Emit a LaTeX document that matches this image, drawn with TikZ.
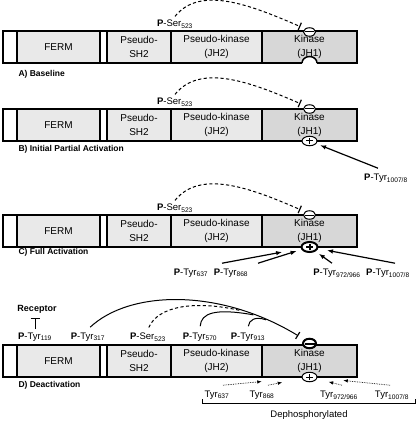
\documentclass[tikz,border=0pt]{standalone}
\usepackage{fontspec}
\setmainfont{Liberation Sans}
\usetikzlibrary{arrows.meta,shapes.geometric}
\definecolor{domgray}{HTML}{E9E9E9}
\definecolor{kingray}{HTML}{D7D7D7}
\newcommand\phos[2]{\textbf{P}-#1\textsubscript{#2}}
\newcommand\unphos[2]{#1\textsubscript{#2}}

\begin{document}
\begin{tikzpicture}[x=1pt,y=-1pt,font=\fontsize{9.5}{13}\selectfont,
  dom/.style={draw,line width=1.5pt,fill=domgray,inner sep=0pt,outer sep=0pt,minimum height=32pt,anchor=north west,align=center,
    font=\fontsize{10}{13.5}\selectfont},
  panel/.style={anchor=west,font=\bfseries\fontsize{8.5}{10}\selectfont},
  offsign/.style={ellipse,draw,fill=white,line width=#1,inner sep=0pt,minimum width=12pt,minimum height=8.5pt,
    path picture={\draw[line width=#1] ([xshift=1.5pt]path picture bounding box.west) -- ([xshift=-1.5pt]path picture bounding box.east);}},
  offsign/.default=1pt,
  onsign/.style={ellipse,draw,fill=white,line width=#1,inner sep=0pt,minimum width=15pt,minimum height=9.5pt,
    path picture={\draw[line width=#1] ([xshift=-3.5pt]path picture bounding box.center) -- ([xshift=3.5pt]path picture bounding box.center)
      ([yshift=-3pt]path picture bounding box.center) -- ([yshift=3pt]path picture bounding box.center);}},
  onsign/.default=1pt,
  inhib/.style={-{Bar[width=8pt,line width=1.2pt]},line width=1pt,shorten >=5pt},
  act/.style={-{Latex[length=6pt,width=4.5pt]},line width=1.2pt},
  deact/.style={-{Latex[length=4.5pt,width=3.5pt]},densely dotted,line width=0.7pt},
  ser dash/.style={dash pattern=on 3.2pt off 2.4pt}]
\useasboundingbox (0,0) rectangle (416,422);
% the four JAK bars
\foreach \p/\y in %
{a/31,b/109,c/215,d/345} {
  \node[dom,fill=white,minimum width=14pt] (\p box) at (3,\y) {};
  \node[dom,minimum width=83pt] (\p ferm) at (\p box.north east) {FERM};
  \node[dom,fill=white,minimum width=7pt] (\p link) at (\p ferm.north east) {};
  \node[dom,minimum width=64pt] (\p sh2) at (\p link.north east) {Pseudo-\\SH2};
  \node[dom,minimum width=91pt] (\p jh2) at (\p sh2.north east) {Pseudo-kinase\\(JH2)};
  \node[dom,fill=kingray,minimum width=95pt] (\p jh1) at (\p jh2.north east) {Kinase\\(JH1)};
}
% A) baseline
\node[offsign] (aminus) at ([yshift=-1pt]ajh1.north) {};
\fill[white] ([xshift=-7.5pt,yshift=-1pt]ajh1.south) rectangle ([xshift=7.5pt,yshift=1pt]ajh1.south);
\draw[line width=1.5pt,fill=white] ([xshift=-7.5pt]ajh1.south) arc[start angle=180,end angle=0,x radius=7.5pt,y radius=6.5pt];
\node (aser) at (175,24) {\phos{Ser}{523}};
\node[panel] (alabel) at (15,74) {A) Baseline};
% B) initial partial activation
\node[offsign] (bminus) at (bjh1.north) {};
\node[onsign] (bplus) at (bjh1.south) {};
\node (bser) at (175,102) {\phos{Ser}{523}};
\node (btyr1007) at (386,178) {\phos{Tyr}{1007/8}};
\node[panel] (blabel) at (15,149) {B) Initial Partial Activation};
\draw[act,shorten >=4pt] ([xshift=-8pt,yshift=2pt]btyr1007.north) -- (bplus);
% C) full activation
\node[offsign] (cminus) at (cjh1.north) {};
\node[onsign=2pt,minimum width=16pt,minimum height=10pt] (cplus) at (cjh1.south) {};
\node (cser) at (175,208) {\phos{Ser}{523}};
\node[panel] (clabel) at (15,252) {C) Full Activation};
\node (ctyr637) at (191,273) {\phos{Tyr}{637}};
\node (ctyr868) at (231,273) {\phos{Tyr}{868}};
\node (ctyr972) at (337,273) {\phos{Tyr}{972/966}};
\node (ctyr1007) at (388,273) {\phos{Tyr}{1007/8}};
\foreach \t/\s/\e in %
{637/31/19,868/27/5,972/-5/4,1007/7/9} {
  \draw[act,shorten >=\e pt] ([xshift=\s pt,yshift=2pt]ctyr\t.north) -- (cplus);
}
\foreach \p in {a,b,c} {
  \draw[inhib,ser dash] (\p ser.north) .. controls +(25,-31) and +(-55,-24) .. (\p minus.north west);
}
% D) deactivation
\node[offsign=2pt,minimum width=13pt,minimum height=9.5pt] (dminus) at ([yshift=1.5pt]djh1.north) {};
\node[onsign] (dplus) at (djh1.south) {};
\node[panel] (dlabel) at (15,385) {D) Deactivation};
\node[font=\bfseries\fontsize{9}{10}\selectfont] (receptor) at (37,309) {Receptor};
\node (dtyr119) at (35,337) {\phos{Tyr}{119}};
\node (dtyr317) at (88,337) {\phos{Tyr}{317}};
\node (dser) at (148,337) {\phos{Ser}{523}};
\node (dtyr570) at (200,337) {\phos{Tyr}{570}};
\node (dtyr913) at (248,337) {\phos{Tyr}{913}};
\draw[-{Bar[width=9pt,line width=1.2pt]},line width=1pt,shorten >=1.5pt] (dtyr119.north) -- (dtyr119.north |- receptor.south);
\draw[inhib,shorten >=7pt,shorten <=3pt] (dtyr317.north) .. controls (130,290) and (220,288) .. (dminus.north west)
  coordinate[pos=0.75] (djoina) coordinate[pos=0.8] (djoinb) coordinate[pos=0.85] (djoinc);
\draw[line width=1pt,ser dash,shorten <=2pt] (dser.north) .. controls (158,306) and (195,300) .. (djoina);
\draw[line width=1pt,shorten <=3pt] (dtyr570.north) .. controls (201,313) and (215,308) .. (djoinb);
\draw[line width=1pt,shorten <=3pt] (dtyr913.north) .. controls (249,320) and (255,316) .. (djoinc);
\node (dtyr637) at (217,395) {\unphos{Tyr}{637}};
\node (dtyr868) at (262,395) {\unphos{Tyr}{868}};
\node (dtyr972) at (339,395) {\unphos{Tyr}{972/966}};
\node (dtyr1007) at (392,395) {\unphos{Tyr}{1007/8}};
\foreach \t/\s/\e in %
{637/6/40,868/6/20,972/3/12,1007/-2/26} {
  \draw[deact,shorten >=\e pt] ([xshift=\s pt,yshift=2pt]dtyr\t.north) -- (dplus);
}
\coordinate (brleft) at (202,403);
\coordinate (brright) at (415,403);
\draw[line width=0.8pt] (brleft) ++(0,-4) -- (brleft) -- (brright) -- ++(0,-4);
\node (dephos) at (309,415) {Dephosphorylated};
\end{tikzpicture}
\end{document}
